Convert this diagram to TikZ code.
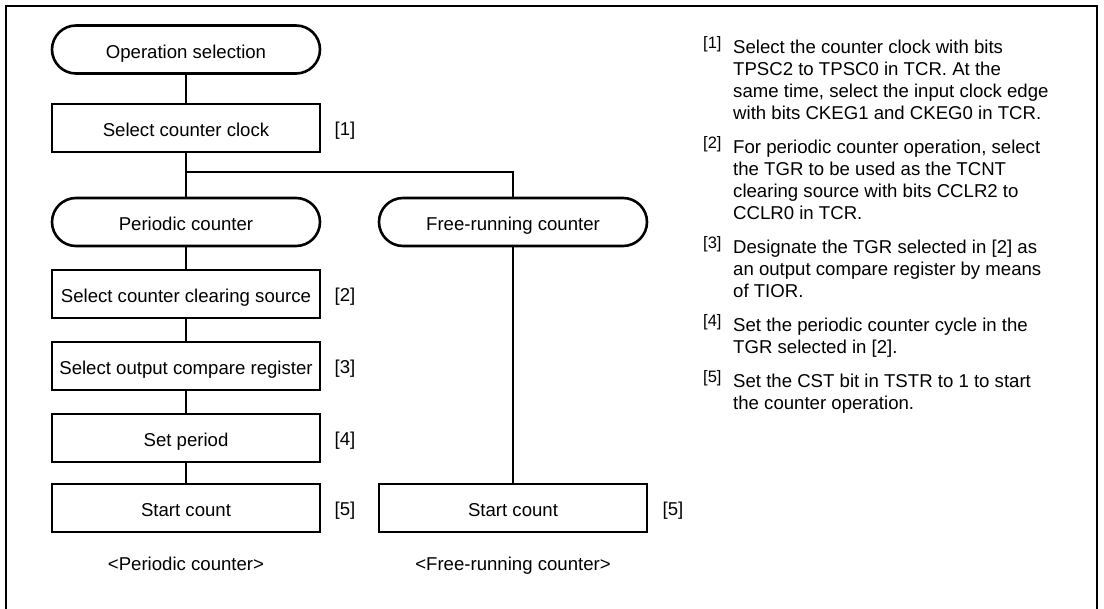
\documentclass[tikz,border=0pt]{standalone}
\usepackage{fontspec}
\setmainfont{Liberation Sans}
\begin{document}
\begin{tikzpicture}[x=1pt,y=-1pt,
  every node/.style={font=\fontsize{18.6}{22}\selectfont, inner sep=0pt},
  lbl/.style={text height=18pt, text depth=0pt},
  stepbox/.style={draw, lbl, line width=2.6pt, minimum width=268pt, minimum height=48pt},
  termbox/.style={stepbox, rounded corners=24pt},
  conn/.style={line width=1.3pt},
  note/.style={anchor=base west, align=left},
  notetag/.style={anchor=base west, font=\fontsize{16.5}{18}\selectfont}
]
\useasboundingbox (0,0) rectangle (1104,609);
\draw[line width=2.4pt] (6,615) -- (6,6) -- (1097,6) -- (1097,615);

\node[termbox] (op) at (186,49.5) {Operation selection};
\node[stepbox] (clk) at (186,128) {Select counter clock};
\node[termbox] (per) at (186,222) {Periodic counter};
\node[termbox] (free) at (513,222) {Free-running counter};
\node[stepbox] (clr) at (186,294) {Select counter clearing source};
\node[stepbox] (ocr) at (186,366) {Select output compare register};
\node[stepbox] (prd) at (186,438) {Set period};
\node[stepbox] (st1) at (186,508) {Start count};
\node[stepbox] (st2) at (513,508) {Start count};

\coordinate (split) at (186,172);
\draw[conn] (op) -- (clk);
\draw[conn] (clk) -- (per);
\draw[conn] (split) -| (free);
\draw[conn] (per) -- (clr);
\draw[conn] (clr) -- (ocr);
\draw[conn] (ocr) -- (prd);
\draw[conn] (prd) -- (st1);
\draw[conn] (free) -- (st2);

\node[lbl] (t1) at (345,127) {[1]};
\node[lbl] (t2) at (345,293) {[2]};
\node[lbl] (t3) at (345,365) {[3]};
\node[lbl] (t4) at (345,437) {[4]};
\node[lbl] (t5) at (345,507) {[5]};
\node[lbl] (t5b) at (673,507) {[5]};

\node[lbl] (cap1) at (186,562) {<Periodic counter>};
\node[lbl] (cap2) at (513,562) {<Free-running counter>};

\node[notetag] (g1) at (703,49) {[1]};
\node[note] (p1) at (733,120) {Select the counter clock with bits\\TPSC2 to TPSC0 in TCR. At the\\same time, select the input clock edge\\with bits CKEG1 and CKEG0 in TCR.};
\node[notetag] (g2) at (703,149) {[2]};
\node[note] (p2) at (733,220) {For periodic counter operation, select\\the TGR to be used as the TCNT\\clearing source with bits CCLR2 to\\CCLR0 in TCR.};
\node[notetag] (g3) at (703,249) {[3]};
\node[note] (p3) at (733,298) {Designate the TGR selected in [2] as\\an output compare register by means\\of TIOR.};
\node[notetag] (g4) at (703,327) {[4]};
\node[note] (p4) at (733,354) {Set the periodic counter cycle in the\\TGR selected in [2].};
\node[notetag] (g5) at (703,383) {[5]};
\node[note] (p5) at (733,410) {Set the CST bit in TSTR to 1 to start\\the counter operation.};
\end{tikzpicture}
\end{document}
